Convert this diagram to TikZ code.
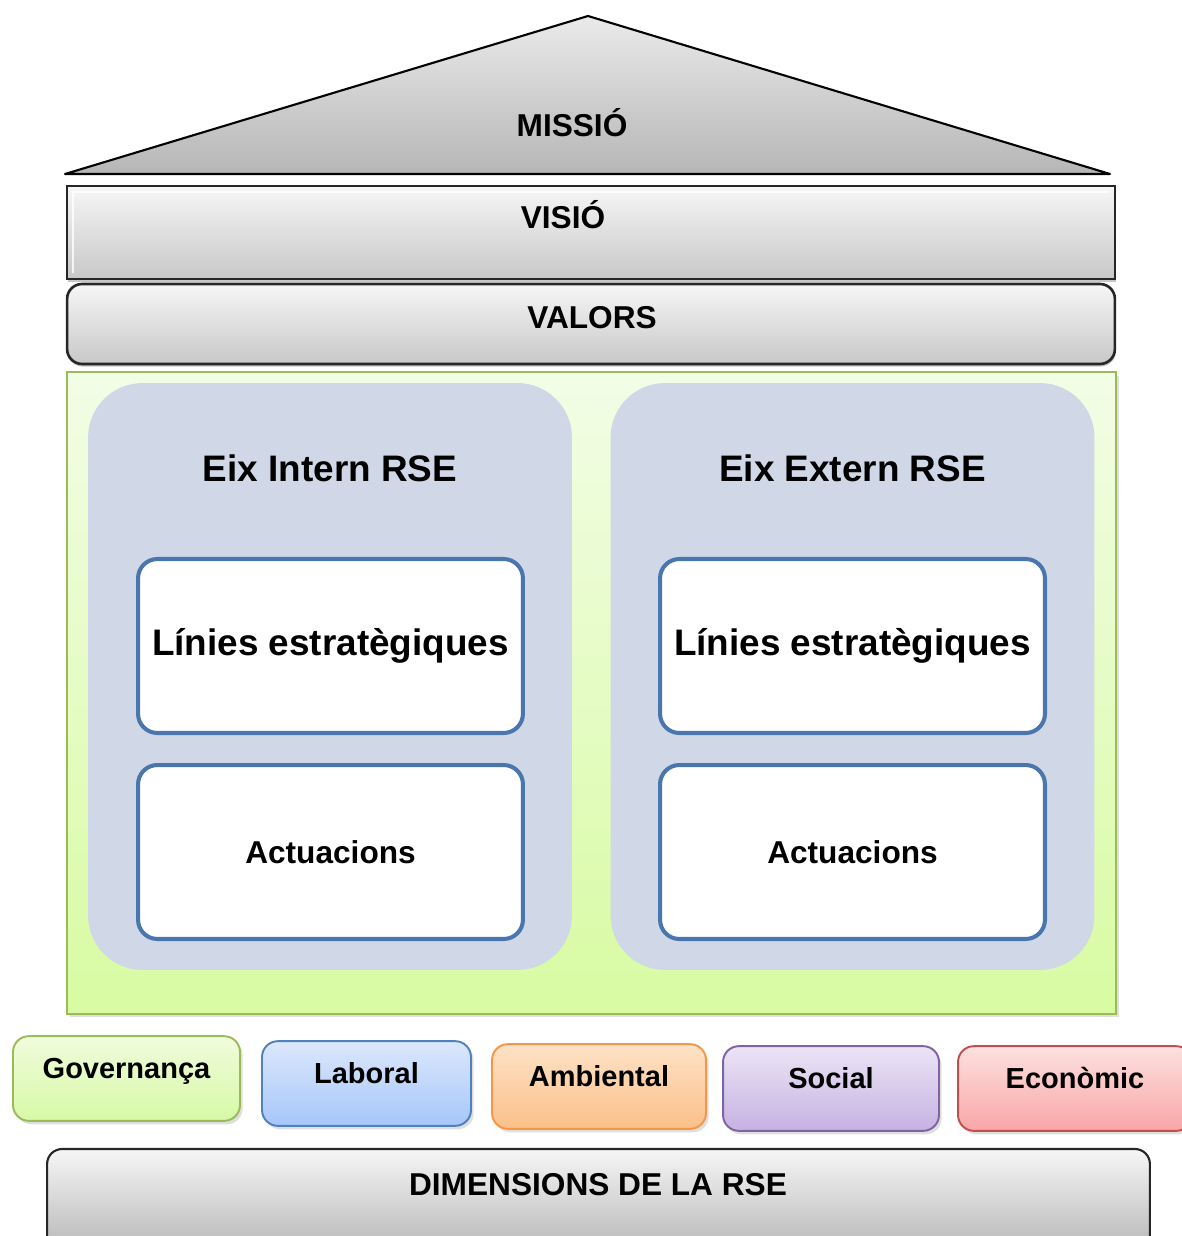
\documentclass[tikz,border=0pt]{standalone}
\usepackage{fontspec}
\setmainfont{Liberation Sans}
\usetikzlibrary{positioning,shadows}

\definecolor{roofTop}{HTML}{EAEAEA}
\definecolor{roofBot}{HTML}{B6B6B6}
\definecolor{barTop}{HTML}{F6F6F6}
\definecolor{barBot}{HTML}{C8C8C8}
\definecolor{fieldTop}{HTML}{F2FDE6}
\definecolor{fieldBot}{HTML}{D8FBA2}
\definecolor{fieldLine}{HTML}{9BBB59}
\definecolor{axisFill}{HTML}{D0D8E8}
\definecolor{itemLine}{HTML}{4A76AE}
\definecolor{govTop}{HTML}{F0FCDC}
\definecolor{govBot}{HTML}{D7F9A6}
\definecolor{labTop}{HTML}{DCE8FC}
\definecolor{labBot}{HTML}{A6C6FA}
\definecolor{labLine}{HTML}{4F81BD}
\definecolor{ambTop}{HTML}{FDE2C6}
\definecolor{ambBot}{HTML}{FBC089}
\definecolor{ambLine}{HTML}{F79646}
\definecolor{socTop}{HTML}{ECE4F6}
\definecolor{socBot}{HTML}{C6B2E2}
\definecolor{socLine}{HTML}{8064A2}
\definecolor{ecoTop}{HTML}{FDE0E0}
\definecolor{ecoBot}{HTML}{F9A6A6}
\definecolor{ecoLine}{HTML}{C0504D}

\begin{document}
\begin{tikzpicture}[
  x=0.02cm, y=-0.02cm,
  shadowed/.style={drop shadow={opacity=0.25, shadow xshift=1.5pt, shadow yshift=-2pt}},
  bar/.style={rectangle, draw=black!85, line width=1.5pt, top color=barTop, bottom color=barBot, minimum width=20.96cm, drop shadow={opacity=0.45, shadow xshift=0.5pt, shadow yshift=-1.5pt}},
  head/.style={font=\bfseries\fontsize{18}{22}\selectfont, text height=12.9pt, text depth=0pt},
  axis/.style={rectangle, rounded corners=31pt, fill=axisFill, minimum width=9.68cm, minimum height=11.74cm},
  axistitle/.style={font=\bfseries\fontsize{21}{25}\selectfont, text height=15pt, text depth=0pt},
  itembox/.style={rectangle, rounded corners=11pt, draw=itemLine, line width=2.3pt, fill=white, minimum width=7.7cm, minimum height=3.48cm},
  dim/.style={rectangle, rounded corners=9pt, line width=1.1pt, inner ysep=0pt, text height=24pt, text depth=24.2pt, font=\bfseries\fontsize{16.5}{20}\selectfont, shadowed},
  node distance=0.56cm
]
\useasboundingbox (0,0) rectangle (1181,1236);

\shade[draw, line width=1.2pt, line join=round, top color=roofTop, bottom color=roofBot] (65,174) -- (588,16) -- (1110,174) -- cycle;
\node[head] (missio) at (572,125) {MISSIÓ};

\node[bar, minimum height=1.86cm] (visio) at (591,232.5) {};
\draw[white, line width=1pt, opacity=0.8] ([shift={(4pt,4pt)}]visio.south west) -- ([shift={(4pt,-4pt)}]visio.north west) -- ([shift={(-4pt,-4pt)}]visio.north east);
\node[head] (visiotext) at (563,217) {VISIÓ};
\node[bar, rounded corners=8.5pt, minimum height=1.6cm] (valors) at (591,324) {};
\node[head] (valorstext) at (592,317) {VALORS};

\node[rectangle, draw=fieldLine, line width=1.1pt, top color=fieldTop, bottom color=fieldBot, minimum width=20.98cm, minimum height=12.84cm, shadowed] (field) at (591.5,693) {};

\node[axis] (intern) at (330,676.5) {};
\node[axis] (extern) at (852.5,676.5) {};
\node[axistitle] (interntitle) at (330,468) {Eix Intern RSE};
\node[axistitle] (externtitle) at (852.5,468) {Eix Extern RSE};

\node[itembox, font=\bfseries\fontsize{21}{25}\selectfont] (linint) at (330.5,646) {Línies estratègiques};
\node[itembox, head, below=of linint] (actint) {Actuacions};
\node[itembox, font=\bfseries\fontsize{21}{25}\selectfont] (linext) at (852.5,646) {Línies estratègiques};
\node[itembox, head, below=of linext] (actext) {Actuacions};

\node[dim, minimum width=4.54cm, draw=fieldLine, top color=govTop, bottom color=govBot] (gov) at (126.5,1078.5) {Governança};
\node[dim, minimum width=4.18cm, draw=labLine, top color=labTop, bottom color=labBot] (lab) at (366.5,1083.5) {Laboral};
\node[dim, minimum width=4.28cm, draw=ambLine, top color=ambTop, bottom color=ambBot] (amb) at (599,1086.5) {Ambiental};
\node[dim, minimum width=4.32cm, draw=socLine, top color=socTop, bottom color=socBot] (soc) at (831,1088.5) {Social};
\node[dim, minimum width=4.68cm, draw=ecoLine, top color=ecoTop, bottom color=ecoBot] (eco) at (1075,1088.5) {Econòmic};

\node[bar, line width=1.2pt, rounded corners=8.5pt, minimum width=22.06cm, minimum height=2.2cm, top color=barTop, bottom color=black!30] (dims) at (598.5,1204) {};
\node[head] (dimstext) at (598,1184) {DIMENSIONS DE LA RSE};
\end{tikzpicture}
\end{document}
